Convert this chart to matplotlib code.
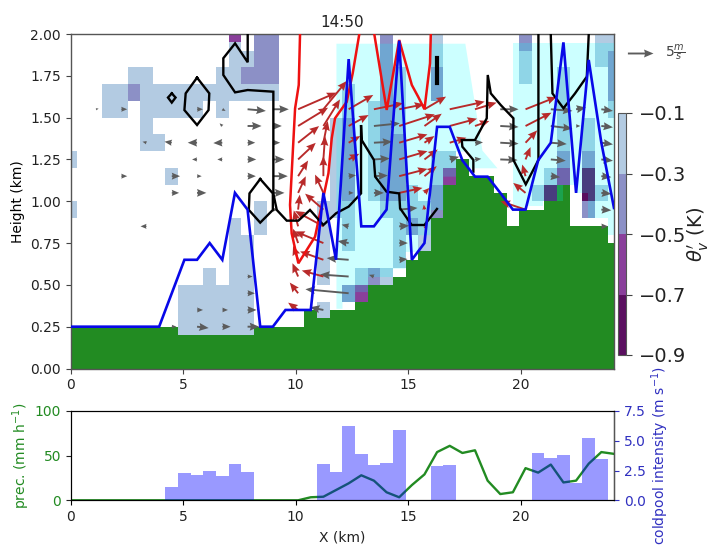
import numpy as np
import matplotlib
matplotlib.use("Agg")
import matplotlib.pyplot as plt
from matplotlib.colors import ListedColormap, BoundaryNorm

# ---------- data ----------
title_text = "14:50"
dx = 0.5616                      # km between grid columns
n_col = 44
x_ticks = [0, 5, 10, 15, 20]
z_ticks = [0.0, 0.25, 0.5, 0.75, 1.0, 1.25, 1.5, 1.75, 2.0]
cb_levels = [-0.9, -0.7, -0.5, -0.3, -0.1]
cb_colors = ["#5a0f5f", "#8a3f9b", "#8c90c6", "#b3cbe2"]

terrain = [0.25]*19 + [0.35]*4 + [0.40, 0.50, 0.50, 0.55, 0.65, 0.75, 0.90, 1.10, 1.25,
           1.15, 1.15, 1.05, 0.85, 0.95, 0.95, 1.00, 1.10, 0.85, 0.85, 0.85, 0.75]

z_edges = [round(0.2 + 0.1*k, 2) for k in range(18)] + [1.95, 2.0]
A, B, C, D = -0.2, -0.4, -0.6, -0.8
# (first column, last column, z bottom, z top, theta_v')
theta_blocks = [
    (3, 4, 1.5, 1.7, A), (5, 6, 1.7, 1.8, A), (6, 16, 1.6, 1.7, A), (5, 5, 1.6, 1.7, B),
    (6, 10, 1.5, 1.6, A), (6, 6, 1.4, 1.5, A), (6, 7, 1.3, 1.4, A), (0, 0, 1.2, 1.3, A),
    (8, 8, 1.1, 1.2, A), (12, 12, 1.5, 1.6, A), (12, 13, 1.7, 1.8, A), (13, 14, 1.8, 1.9, A),
    (13, 13, 1.9, 1.95, A), (13, 13, 1.95, 2.0, C), (14, 16, 1.7, 1.8, B), (15, 16, 1.8, 2.0, B),
    (0, 0, 0.9, 1.0, A), (15, 15, 0.8, 1.0, A), (9, 14, 0.2, 0.5, A), (11, 11, 0.5, 0.6, A),
    (13, 14, 0.5, 0.8, A), (13, 13, 0.8, 0.9, A), (20, 20, 0.3, 0.4, A), (20, 20, 0.5, 1.0, A),
    (21, 21, 0.9, 1.5, A), (22, 22, 0.7, 1.0, A), (22, 22, 1.0, 1.5, B), (22, 22, 1.5, 1.7, A),
    (24, 24, 1.0, 1.6, A), (25, 25, 1.0, 2.0, B), (25, 25, 0.9, 1.0, A), (26, 26, 1.4, 1.8, A),
    (26, 26, 1.0, 1.4, B), (26, 26, 0.6, 1.0, A), (27, 27, 0.9, 1.1, A), (27, 27, 0.8, 0.9, B),
    (28, 28, 0.7, 1.0, A), (29, 29, 0.9, 1.1, B), (29, 29, 1.1, 1.3, A), (30, 30, 1.1, 1.2, C),
    (30, 30, 1.2, 1.3, A), (29, 29, 1.8, 2.0, A), (29, 29, 1.6, 1.8, B), (23, 23, 0.5, 0.6, A),
    (24, 24, 0.5, 0.6, B), (25, 25, 0.5, 0.6, A), (22, 22, 0.4, 0.5, B), (23, 23, 0.4, 0.5, C),
    (36, 36, 1.9, 2.0, B), (36, 36, 1.7, 1.9, A), (37, 37, 1.0, 1.1, A), (38, 38, 1.1, 1.2, A),
    (38, 38, 1.0, 1.1, D), (39, 39, 1.3, 1.8, A), (39, 39, 1.2, 1.3, B), (39, 39, 1.1, 1.2, C),
    (41, 41, 1.3, 1.5, A), (41, 41, 1.2, 1.3, B), (41, 41, 1.0, 1.2, D), (41, 41, 0.9, 1.0, B),
    (42, 42, 1.0, 1.1, A), (42, 42, 1.8, 2.0, A), (43, 43, 1.9, 2.0, A), (43, 43, 1.6, 1.9, B),
    (43, 43, 1.5, 1.6, A),
]

cold_main_x = [11.79, 12.06, 12.06, 12.63, 12.63, 13.2, 13.2, 14.3, 14.3, 14.86, 14.86, 15.43,
               15.43, 15.97, 15.97, 16.54, 16.54, 17.1, 17.1, 17.52, 17.7, 17.7, 18.28, 18.95]
cold_main_bot = [.36, .36, .40, .40, .46, .46, .55, .55, .6, .6, .7, .7, .8, .8, .95, .95,
                 1.15, 1.15, 1.3, 1.3, 1.3, 1.2, 1.2, 1.2]
cold_main_top = [1.945]*20 + [1.794, 1.794, 1.306, 1.2]
cold_right_x = [19.66, 20.2, 20.2, 21.0, 21.0, 21.9, 21.9, 22.5, 22.5, 23.0, 23.0, 23.87, 23.87, 24.15]
cold_right_bot = [.95, .95, .97, .97, 1.0, 1.0, 1.1, 1.1, 1.05, 1.05, .9, .9, .8, .8]
cold_right_top = [1.945]*14

blue_z = [.25]*8 + [.45, .65, .65, .75, .65, 1.05, .95, .25, .25, .35, .35, .35, 1.05, .65, 1.85,
          .85, .85, .95, 1.96, .65, .75, 1.445, 1.445, 1.245, 1.147, 1.147, 1.05, .95, .95, 1.245,
          1.35, 1.95, 1.05, 1.845, 1.35, .96]

black_lines = [
    ([14.01, 14.01, 13.01, 12.08, 12.08, 13.01, 14.01, 16.04, 16.04, 16.17, 16.31, 17.1, 18.02, 18.94,
      20.0, 21.0, 22.0, 22.98, 22.98, 23.03, 24.0, 24.1, 25.0, 26.0, 26.07, 26.99, 28.0, 28.99],
     [1.994, 1.831, 1.944, 1.855, 1.755, 1.651, 1.665, 1.655, 1.047, .998, .948, .884, .884, .948,
      .858, .928, .968, 1.047, 1.456, 1.366, 1.247, 1.147, 1.057, 1.047, .958, .858, .858, .954]),
    ([37.02, 37.02, 36.02, 35.04, 35.04, 34.04, 33.25, 33.01, 32.93, 32.0, 30.95, 31.0, 31.87, 31.87],
     [1.994, 1.247, 1.101, 1.247, 1.496, 1.575, 1.645, 1.755, 1.496, 1.366, 1.366, 1.326, 1.247, 1.177]),
    ([38.0, 38.13, 39.0, 39.92, 40.85, 41.0], [1.994, 1.645, 1.556, 1.645, 1.745, 1.994]),
    ([8.0, 8.3, 8.0, 7.7, 8.0], [1.645, 1.62, 1.59, 1.62, 1.645]),
    ([10.0, 10.97, 10.91, 10.0, 9.0, 9.1, 10.0], [1.739, 1.645, 1.545, 1.456, 1.545, 1.645, 1.739]),
    ([15.0, 16.0, 16.0, 15.0, 14.1, 14.15, 15.0], [1.133, 1.047, .948, .872, .948, 1.047, 1.133]),
]
black_thick_x = [29.02, 29.02]
black_thick_z = [1.855, 1.705]

red_lines = [
    ([18.15, 18.05, 17.76, 17.36, 17.49, 18.02, 19.34, 20.4, 20.66, 20.92, 21.85, 22.32, 22.83],
     [1.994, 1.695, 1.555, .978, .808, .629, .788, 1.167, 1.376, 1.496, 1.595, 1.765, 1.994]),
    ([24.04, 25.01, 26.0, 27.0, 27.5, 28.0, 28.44, 28.5],
     [1.994, 1.546, 1.964, 1.695, 1.625, 1.55, 1.825, 1.994]),
]

# wind arrows: (column, z, u, w); u and w in 1/15.4 m/s
gray_arrows = [
    (2, 1.55, 8, 2), (4, 1.55, 18, 0), (10, 1.55, 18, 0), (12, 1.55, 10, -5), (14, 1.55, 55, -5), (16, 1.55, 48, 0),
    (12, 1.45, -8, 8), (14, 1.45, 42, 0), (16, 1.45, 27, 0),
    (6, 1.35, -12, 3), (8, 1.35, -22, 3), (10, 1.35, -28, 0), (12, 1.35, -27, -1), (14, 1.35, 23, 0), (16, 1.35, 22, 0),
    (10, 1.25, -15, 0), (12, 1.25, -15, 0), (14, 1.25, 26, 0), (16, 1.25, 35, 0),
    (4, 1.15, 18, 0), (8, 1.15, 25, 0), (10, 1.15, 14, 0), (14, 1.15, 25, 0), (16, 1.15, 45, 0),
    (8, 1.05, 22, 0), (10, 1.05, 28, 0), (16, 1.05, 35, 0), (16, 0.95, 15, 0),
    (6, 0.85, -18, 0), (14, 0.55, 15, 0), (14, 0.45, 22, 0),
    (10, 0.35, 18, 0), (12, 0.35, 17, 0), (14, 0.35, 27, 0),
    (8, 0.25, 14, 0), (10, 0.25, 35, -4), (12, 0.25, 25, 0), (14, 0.25, 35, 0),
    (20, 0.35, -40, 8), (22, 0.45, -130, 12), (22, 0.55, -86, 6), (22, 0.65, -66, 5), (22, 0.75, -33, 6),
    (22, 0.85, -21, 5), (24, 0.55, -15, 5),
    (26, 0.65, 25, 2), (26, 0.75, 26, 0), (26, 0.85, 30, 2), (26, 0.95, 55, 5),
    (22, 1.15, 22, 3), (22, 1.05, 15, 0),
    (24, 1.45, 78, 8), (24, 1.35, 55, 3), (24, 1.25, 48, 3), (24, 1.15, 42, 2), (24, 1.05, 30, 0),
    (30, 1.25, 28, 8), (32, 1.25, 19, 2), (32, 1.35, 24, 1),
    (34, 1.55, 55, 0), (34, 1.45, 55, -3), (34, 1.35, 55, -3), (34, 1.25, 52, -2),
    (38, 1.55, 65, -5), (38, 1.45, 65, -8), (38, 1.35, 48, -4), (38, 1.25, 45, -4), (38, 1.15, 28, -3),
    (40, 1.55, 30, 5), (40, 1.45, 13, 0),
    (42, 1.55, 35, -5), (42, 1.45, 35, -4), (42, 1.35, 35, -5), (42, 1.25, 35, -4), (42, 1.15, 30, -3),
    (42, 1.05, 30, -3), (42, 0.95, 30, -2), (42, 0.85, 20, 0),
]
red_arrows = [
    (18, 1.55, 115, 50), (18, 1.45, 90, 55), (18, 1.35, 63, 50), (18, 1.25, 53, 50), (18, 1.15, 30, 47),
    (18, 1.05, 23, 50), (18, 0.95, 5, 45), (18, 0.85, -13, 48), (18, 0.75, -15, 43), (18, 0.65, -15, 42),
    (18, 0.55, -17, 40), (18, 0.45, -25, 32), (18, 0.35, -30, 22),
    (20, 1.55, 70, 85), (20, 1.45, 50, 80), (20, 1.35, 13, 65), (20, 1.25, 5, 70), (20, 1.15, 0, 60),
    (20, 1.05, -25, 55), (20, 0.95, -55, 48), (20, 0.85, -85, 46), (20, 0.75, -85, 35), (20, 0.65, -70, 25),
    (20, 0.55, -65, 18),
    (22, 1.55, 74, 43), (22, 1.45, 60, 33), (22, 1.35, 35, 20), (22, 1.25, 32, 17),
    (24, 1.55, 88, 18), (26, 1.55, 75, 15), (26, 1.45, 107, 35), (26, 1.35, 85, 25), (26, 1.25, 85, 25),
    (26, 1.15, 85, 22), (26, 1.05, 70, 15),
    (28, 1.55, 65, 38), (28, 1.45, 52, 37), (28, 1.35, 30, 20), (28, 1.25, 40, 30), (28, 1.15, 37, 30),
    (28, 1.05, 15, 15), (28, 0.95, -2, 15), (28, 0.85, 3, -8),
    (30, 1.55, 105, 23), (30, 1.45, 82, 22), (30, 1.35, 50, 15), (32, 1.55, 65, 20), (32, 1.45, 43, 15),
    (36, 1.55, 93, 37), (36, 1.45, 78, 40), (36, 1.35, 35, 37), (36, 1.25, 15, 37), (36, 1.15, -10, 35),
    (36, 1.05, -37, 30), (36, 0.95, -75, 25),
]

prec = [0]*19 + [3.4, 4, 11.5, 19, 28, 22, 9, 3.4, 17, 29, 54, 61, 53, 56, 22, 7, 9, 36, 31, 40, 20, 22, 41, 54, 52]
coldpool = [0]*8 + [1.15, 2.27, 2.13, 2.46, 2.04, 3.03, 2.35] + [0]*5 + [3.08, 2.35, 6.27, 3.9, 2.97, 3.17, 5.9,
            0, 0, 2.88, 2.94] + [0]*6 + [3.95, 3.53, 3.78, 1.45, 5.2, 3.5, 0]

# ---------- figure ----------
W, H = 710, 545
fig = plt.figure(figsize=(W/100, H/100), dpi=100)
def place(l, t, r, b):
    return [l/W, (H-b)/H, (r-l)/W, (b-t)/H]

ax = fig.add_axes(place(70.7, 34, 614, 368.5))
x = np.arange(n_col)*dx

ax.bar(x, terrain, width=dx, color="forestgreen", zorder=1)

x_edges = (np.arange(n_col+1)-0.5)*dx
theta = np.full((len(z_edges)-1, n_col), np.nan)
for c0, c1, z0, z1, val in theta_blocks:
    for j in range(len(z_edges)-1):
        if z_edges[j] >= z0-1e-6 and z_edges[j+1] <= z1+1e-6:
            theta[j, c0:c1+1] = val
cmap = ListedColormap(cb_colors)
norm = BoundaryNorm(cb_levels, cmap.N)
mesh = ax.pcolormesh(x_edges, z_edges, np.ma.masked_invalid(theta), cmap=cmap, norm=norm,
                     zorder=2, antialiased=False, linewidth=0)

ax.fill_between(cold_main_x, cold_main_bot, cold_main_top, color="cyan", alpha=0.2, lw=0, zorder=3)
ax.fill_between(cold_right_x, cold_right_bot, cold_right_top, color="cyan", alpha=0.2, lw=0, zorder=3)

def arrows(table, color, z):
    t = np.array(table, dtype=float)
    return ax.quiver(t[:, 0]*dx, t[:, 1], t[:, 2]/15.4, t[:, 3]/15.4, color=color, angles="uv",
                     scale_units="dots", scale=1/5.12, units="dots", width=1.9, headwidth=4.2,
                     pivot="tail", zorder=z)
q_gray = arrows(gray_arrows, "#5c5c5c", 5)
arrows(red_arrows, "#b82a2a", 5)

for cx, cz in red_lines:
    ax.plot(np.array(cx)*dx, cz, color="#ee1111", lw=1.8, zorder=6, solid_joinstyle="miter")
for cx, cz in black_lines:
    ax.plot(np.array(cx)*dx, cz, color="black", lw=1.7, zorder=6, solid_joinstyle="miter")
ax.plot(np.array(black_thick_x)*dx, black_thick_z, color="black", lw=3.0, zorder=6)
ax.plot(x, blue_z, color="#0808e8", lw=1.9, zorder=7, solid_joinstyle="miter")

ax.set_xlim(0, 24.15)
ax.set_ylim(0, 2)
ax.set_xticks(x_ticks)
ax.set_yticks(z_ticks)
ax.set_yticklabels([f"{v:.2f}" for v in z_ticks])
ax.set_ylabel("Height (km)", fontsize=10, labelpad=4)
ax.set_title(title_text, fontsize=11, pad=5, color="#222222")
ax.tick_params(labelsize=10, color="#444444", labelcolor="#222222")
for s in ax.spines.values():
    s.set_color("#555555")
    s.set_linewidth(1.0)

ax.quiverkey(q_gray, 653/W, (H-52.7)/H, 5, r"$5\frac{m}{s}$", labelpos="E", coordinates="figure",
             color="#5c5c5c", labelsep=0.12, fontproperties={"size": 10}, labelcolor="#444444")

cax = fig.add_axes(place(618, 113, 626, 355))
cb = fig.colorbar(mesh, cax=cax, ticks=cb_levels)
cb.ax.tick_params(labelsize=14, length=4, color="#444444", labelcolor="#222222", pad=5)
cb.outline.set_edgecolor("#555555")
cb.set_label(r"$\theta_v^{\prime}$ (K)", fontsize=14, labelpad=0, color="#222222")

# ---------- lower panel ----------
ax2 = fig.add_axes(place(70.7, 411, 614, 500.3))
ax2.plot(x, prec, color="forestgreen", lw=1.7)
ax2.set_xlim(0, 24.15)
ax2.set_ylim(0, 100)
ax2.set_xticks(x_ticks)
ax2.set_yticks([0, 50, 100])
ax2.tick_params(labelsize=10, labelcolor="#222222")
ax2.tick_params(axis="y", labelcolor="forestgreen", color="#222222")
ax2.set_xlabel("X (km)", fontsize=10, color="#222222", labelpad=5)
ax2.set_ylabel(r"prec. (mm h$^{-1}$)", color="forestgreen", fontsize=10, labelpad=2)

ax3 = ax2.twinx()
ax3.bar(x, coldpool, width=dx, color="blue", alpha=0.4, lw=0)
ax3.set_ylim(0, 7.5)
ax3.set_yticks([0, 2.5, 5, 7.5])
ax3.set_yticklabels(["0.0", "2.5", "5.0", "7.5"])
ax3.tick_params(axis="y", labelsize=10, colors="#3030c0")
ax3.set_ylabel(r"coldpool intensity (m s$^{-1}$)", color="#3030c0", fontsize=10, labelpad=3)
ax3.spines["right"].set_color("#555555")
ax3.spines["right"].set_linewidth(1.0)

fig.savefig("out.png", dpi=100)
